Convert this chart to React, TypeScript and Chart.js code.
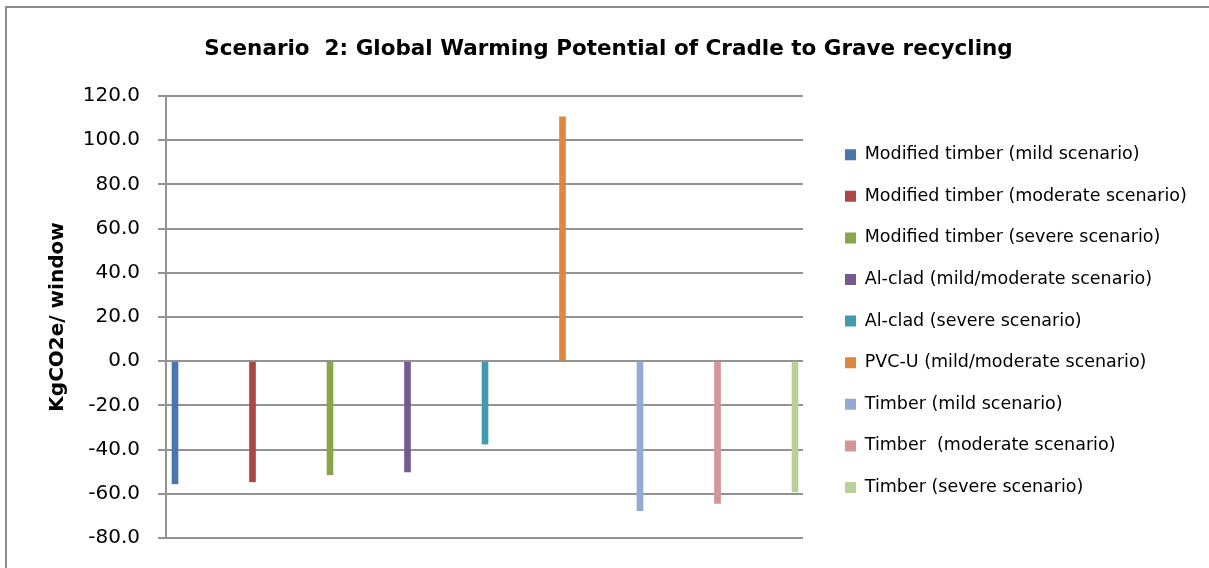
import React, { useEffect, useRef } from "react";
import { Chart, registerables } from "chart.js";

Chart.register(...registerables);

const categories = [
  "Modified timber (mild scenario)",
  "Modified timber (moderate scenario)",
  "Modified timber (severe scenario)",
  "Al-clad (mild/moderate scenario)",
  "Al-clad (severe scenario)",
  "PVC-U (mild/moderate scenario)",
  "Timber (mild scenario)",
  "Timber  (moderate scenario)",
  "Timber (severe scenario)",
];

const values = [-55.5, -54.6, -51.4, -50.1, -37.5, 110.6, -67.6, -64.4, -59.1];

const colors = [
  "#4A76AE",
  "#AD4745",
  "#8AA64C",
  "#735A91",
  "#4399B1",
  "#DE873F",
  "#95AAD2",
  "#D39595",
  "#BACF99",
];

const yMin = -80;
const yMax = 120;
const yStep = 20;

const titleText = "Scenario  2: Global Warming Potential of Cradle to Grave recycling";
const yTitle = "KgCO2e/ window";

const FONT = "'DejaVu Sans', sans-serif";
const GRID = "#939393";
const LEGEND_SIZE = 17.5;
const LEGEND_PAD = 41.6 - LEGEND_SIZE;
const BOX = 11;

export default function App() {
  const ref = useRef<HTMLCanvasElement | null>(null);

  useEffect(() => {
    if (!ref.current) return;
    const ctx = ref.current.getContext("2d")!;
    ctx.font = `${LEGEND_SIZE}px ${FONT}`;
    const maxW = Math.max(...categories.map((c) => ctx.measureText(c).width));
    // legend box left edge should sit at x = 845 (Chart.js adds 10px to vertical legends)
    const padR = Math.max(0, 1209 - 845 - BOX - LEGEND_SIZE / 2 - maxW - 10);
    const padL = padR + 8;

    const datasets = categories.map((name, i) => ({
      label: name,
      data: [{ x: i, y: values[i] }],
      backgroundColor: colors[i],
      borderWidth: 0,
      barThickness: 6,
      grouped: false,
    }));

    const chart = new Chart(ref.current, {
      type: "bar",
      data: { datasets } as any,
      options: {
        responsive: false,
        animation: false,
        maintainAspectRatio: false,
        layout: { padding: { left: padL, top: 0, right: padR, bottom: 27 } },
        plugins: {
          title: {
            display: true,
            text: titleText,
            color: "#000",
            font: { family: FONT, size: 21.5, weight: "bold" },
            padding: { top: 37, bottom: 33.2 },
          },
          legend: {
            display: true,
            position: "right",
            align: "center",
            fullSize: false,
            maxWidth: 600,
            title: {
              display: true,
              text: " ",
              font: { size: 1 },
              padding: { top: 7, bottom: 0 },
            },
            labels: {
              color: "#000",
              font: { family: FONT, size: LEGEND_SIZE },
              boxWidth: BOX,
              boxHeight: BOX,
              padding: LEGEND_PAD,
            },
          },
          tooltip: { enabled: false },
        },
        scales: {
          x: {
            type: "linear",
            display: false,
            offset: false,
            min: -0.116,
            max: 8.103,
          },
          y: {
            type: "linear",
            position: "left",
            min: yMin,
            max: yMax,
            ticks: {
              stepSize: yStep,
              color: "#000",
              font: { family: FONT, size: 20 },
              padding: 18,
              callback: (v: any) => Number(v).toFixed(1),
            },
            grid: {
              color: GRID,
              lineWidth: 2,
              tickLength: 8,
              drawTicks: true,
            },
            border: { display: true, color: GRID, width: 2 },
            title: {
              display: true,
              text: yTitle,
              color: "#000",
              font: { family: FONT, size: 20, weight: "bold" },
              padding: { top: Math.max(0, 46 - padL), bottom: 0 },
            },
            afterFit: (s: any) => {
              s.width = 166 - padL;
            },
          },
          gap: {
            type: "linear",
            position: "right",
            display: true,
            grid: { display: false, drawTicks: false },
            border: { display: false },
            ticks: { display: false },
            afterFit: (s: any) => {
              s.width = 845 - LEGEND_PAD - 803;
            },
          },
        },
      } as any,
    });
    return () => chart.destroy();
  }, []);

  return (
    <>
      <div
        style={{
          position: "fixed",
          left: 5,
          top: 6,
          width: 1204,
          height: 562,
          boxSizing: "border-box",
          borderLeft: "2px solid #8c8c8c",
          borderTop: "2px solid #8c8c8c",
        }}
      />
      <canvas
        ref={ref}
        width={1209}
        height={568}
        style={{ position: "fixed", left: 0, top: 0, width: 1209, height: 568 }}
      />
    </>
  );
}
